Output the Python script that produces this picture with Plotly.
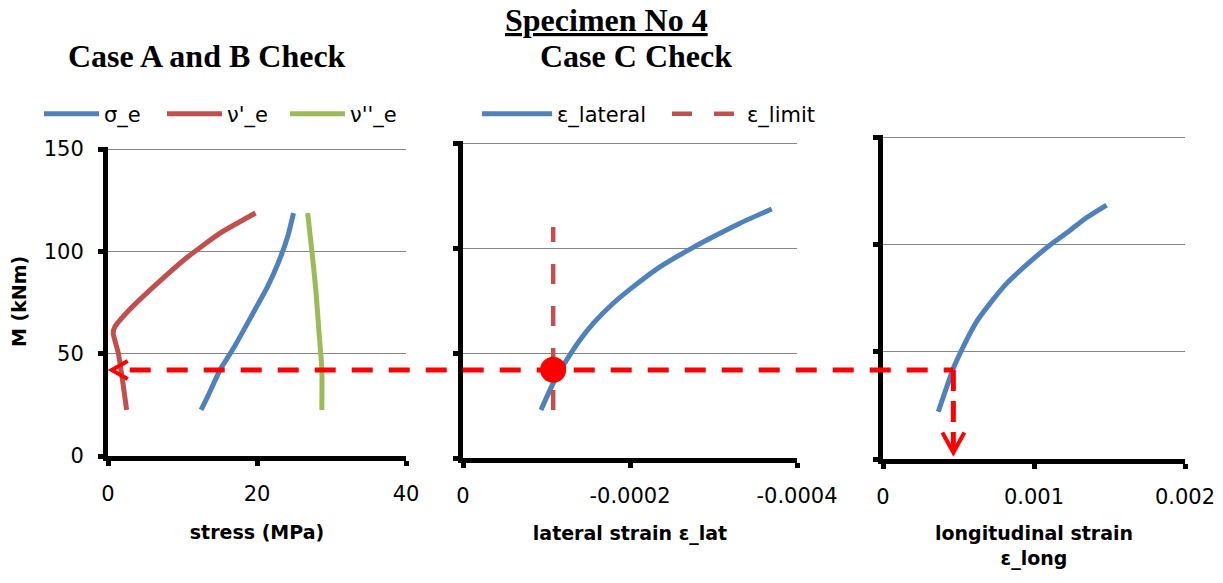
import plotly.graph_objects as go

# ---------------- data ----------------
# Panel 1: Case A and B check (stress, MPa vs M, kNm)
M_sigma = [22.5, 30, 42.5, 53, 70, 82.6, 94.8, 107, 118.7]
sigma_e = [12.5, 13.5, 15.1, 16.9, 19.5, 21.4, 22.9, 24.1, 24.9]
M_nu1 = [22.5, 35.7, 50, 60, 63, 70, 82.6, 97, 109, 118.7]
nu1_e = [2.5, 2.0, 1.4, 0.7, 0.9, 2.5, 6.1, 10.6, 15.1, 19.8]
M_nu2 = [22.5, 42.5, 61.5, 81, 99, 118.7]
nu2_e = [28.7, 28.7, 28.3, 27.9, 27.4, 26.8]

# Panel 2: Case C check (lateral strain)
M_lat = [22.9, 35.6, 46.7, 56.2, 64.1, 73.7, 81.6, 91.0, 100.3, 107.0, 111.8, 118.6]
eps_lat = [-0.0000934, -0.000108, -0.0001242, -0.0001401, -0.000156, -0.00018,
           -0.000204, -0.0002359, -0.0002758, -0.0003078, -0.0003317, -0.0003697]
M_limit = [22.9, 110]
eps_limit = [-0.000108, -0.000108]

# Panel 3: longitudinal strain
M_long = [22.0, 31.3, 42.3, 52.4, 64.1, 72.5, 81.8, 91.9, 99.7, 106.5, 112.5, 118.3]
eps_long = [0.000366, 0.000411, 0.000466, 0.000532, 0.000621, 0.000709, 0.000819,
            0.000974, 0.001106, 0.001238, 0.001349, 0.001481]

# Check values (guide)
M_check = 42
stress_guide_start = 0.5
eps_lat_check = -0.000108
eps_long_check = 0.000466
M_arrow_tip = 3

# Ticks
y_ticks = [0, 50, 100, 150]
x1_ticks = [0, 20, 40]
x1_labels = ["0", "20", "40"]
x2_ticks = [0, -0.0002, -0.0004]
x2_labels = ["0", "-0.0002", "-0.0004"]
x3_ticks = [0, 0.001, 0.002]
x3_labels = ["0", "0.001", "0.002"]

# ---------------- layout helpers ----------------
W, H = 1223, 583
BLUE = "#4F81BD"
RED = "#C0504D"
GREEN = "#9BBB59"
GUIDE = "#FF0000"
FONT = "'DejaVu Sans', Lato, sans-serif"
SERIF = "'Liberation Serif', 'Times New Roman', serif"

Y_MAX = 150
Y_TOP = 151  # small headroom so the 150 gridline is drawn

base = {
    1: dict(x=[108, 406], y=[456, 149], xr=[0, 40]),
    2: dict(x=[463, 797], y=[458, 143], xr=[0, -0.0004]),
    3: dict(x=[883, 1185], y=[459, 137], xr=[0, 0.002]),
}
dom = {}
for k, b in base.items():
    y0, y150 = b["y"]
    ytop = y0 - (y0 - y150) * Y_TOP / Y_MAX
    dom[k] = dict(x=[b["x"][0] / W, b["x"][1] / W], y=[1 - y0 / H, 1 - ytop / H], xr=b["xr"])
yr = [0, Y_TOP]


def px(p, v):
    d = dom[p]
    return d["x"][0] + (v - d["xr"][0]) / (d["xr"][1] - d["xr"][0]) * (d["x"][1] - d["x"][0])


def py(p, m):
    d = dom[p]
    return d["y"][0] + (m - yr[0]) / (yr[1] - yr[0]) * (d["y"][1] - d["y"][0])


fig = go.Figure()

LW = 5
SM = 0.5
fig.add_trace(go.Scatter(x=sigma_e, y=M_sigma, mode="lines", name="σ_e",
                         line=dict(color=BLUE, width=LW, shape="spline", smoothing=0.6),
                         xaxis="x", yaxis="y", legend="legend"))
fig.add_trace(go.Scatter(x=nu1_e, y=M_nu1, mode="lines", name="ν'_e",
                         line=dict(color=RED, width=LW, shape="spline", smoothing=0.5),
                         xaxis="x", yaxis="y", legend="legend"))
fig.add_trace(go.Scatter(x=nu2_e, y=M_nu2, mode="lines", name="ν''_e",
                         line=dict(color=GREEN, width=LW, shape="spline", smoothing=0.6),
                         xaxis="x", yaxis="y", legend="legend"))

fig.add_trace(go.Scatter(x=eps_lat, y=M_lat, mode="lines", name="ε_lateral",
                         line=dict(color=BLUE, width=LW, shape="spline", smoothing=SM),
                         xaxis="x2", yaxis="y2", legend="legend2"))
fig.add_trace(go.Scatter(x=eps_limit, y=M_limit, mode="lines", name="ε_limit",
                         line=dict(color=RED, width=4.5, dash="20px,22px"),
                         xaxis="x2", yaxis="y2", legend="legend2"))
fig.add_trace(go.Scatter(x=[eps_lat_check], y=[M_check], mode="markers", showlegend=False,
                         marker=dict(color=GUIDE, size=26), xaxis="x2", yaxis="y2"))

fig.add_trace(go.Scatter(x=eps_long, y=M_long, mode="lines", name="ε_long",
                         line=dict(color=BLUE, width=LW, shape="spline", smoothing=SM),
                         xaxis="x3", yaxis="y3", showlegend=False))

axis_common = dict(showline=True, linewidth=5, linecolor="black", ticks="outside",
                   ticklen=5, tickwidth=5, tickcolor="black", zeroline=False, automargin=False,
                   tickfont=dict(family=FONT, size=21, color="black"))
xt = dict(showgrid=False, ticklabelstandoff=10)
yt = dict(range=yr, tickvals=y_ticks, showgrid=True, gridcolor="#868686", gridwidth=1.3)

title_font = dict(family=FONT, size=19, color="black")

fig.update_layout(
    xaxis=dict(domain=dom[1]["x"], range=dom[1]["xr"], tickvals=x1_ticks, ticktext=x1_labels,
               anchor="y", title=dict(text="<b>stress (MPa)</b>", font=title_font, standoff=22),
               **xt, **axis_common),
    yaxis=dict(domain=dom[1]["y"], anchor="x", ticklabelstandoff=10,
               title=dict(text="<b>M (kNm)</b>", font=title_font, standoff=14),
               **yt, **axis_common),
    xaxis2=dict(domain=dom[2]["x"], range=dom[2]["xr"], tickvals=x2_ticks, ticktext=x2_labels,
                anchor="y2", title=dict(text="<b>lateral strain ε_lat</b>", font=title_font, standoff=21),
                **xt, **axis_common),
    yaxis2=dict(domain=dom[2]["y"], anchor="x2", showticklabels=False, **yt, **axis_common),
    xaxis3=dict(domain=dom[3]["x"], range=dom[3]["xr"], tickvals=x3_ticks, ticktext=x3_labels,
                anchor="y3", title=dict(text="<b>longitudinal strain<br>ε_long</b>", font=title_font, standoff=20),
                **xt, **axis_common),
    yaxis3=dict(domain=dom[3]["y"], anchor="x3", showticklabels=False, **yt, **axis_common),
)

fig.update_layout(
    width=W, height=H, autosize=False,
    margin=dict(l=0, r=0, t=0, b=0),
    paper_bgcolor="white", plot_bgcolor="white",
    font=dict(family=FONT, size=21, color="black"),
    legend=dict(orientation="h", x=39 / W, y=1 - 114 / H, xanchor="left", yanchor="middle",
                itemwidth=55, entrywidth=53, font=dict(family=FONT, size=21, color="black"),
                bgcolor="rgba(0,0,0,0)"),
    legend2=dict(orientation="h", x=477 / W, y=1 - 114 / H, xanchor="left", yanchor="middle",
                 itemwidth=70, entrywidth=105, font=dict(family=FONT, size=21, color="black"),
                 bgcolor="rgba(0,0,0,0)"),
    hovermode=False,
)

# Titles
fig.add_annotation(text="<b><span style='text-decoration:underline'>Specimen No 4</span></b>",
                   x=606 / W, y=1 - 20 / H, xref="paper", yref="paper", showarrow=False,
                   xanchor="center", yanchor="middle",
                   font=dict(family=SERIF, size=32, color="black"))
fig.add_annotation(text="<b>Case A and B Check</b>", x=207 / W, y=1 - 56 / H, xref="paper", yref="paper",
                   showarrow=False, xanchor="center", yanchor="middle",
                   font=dict(family=SERIF, size=32, color="black"))
fig.add_annotation(text="<b>Case C Check</b>", x=636 / W, y=1 - 56 / H, xref="paper", yref="paper",
                   showarrow=False, xanchor="center", yanchor="middle",
                   font=dict(family=SERIF, size=32, color="black"))

# Guide: horizontal dashed line from panel 1 to panel 3, then down
gx0 = px(1, stress_guide_start)
gy = py(1, M_check)
gx1 = px(3, eps_long_check)
gy_tip = py(3, M_arrow_tip)
dxp, dyp = 1 / W, 1 / H
fig.add_shape(type="line", xref="paper", yref="paper", x0=gx0 + 18 * dxp, y0=gy, x1=gx1, y1=gy,
              line=dict(color=GUIDE, width=5, dash="21px,16px"))
fig.add_shape(type="line", xref="paper", yref="paper", x0=gx1, y0=gy, x1=gx1, y1=gy_tip + 4 * dyp,
              line=dict(color=GUIDE, width=5, dash="21px,10px"))
fig.add_shape(type="path", xref="paper", yref="paper",
              path=f"M{gx0 + 16 * dxp},{gy + 9 * dyp} L{gx0},{gy} L{gx0 + 16 * dxp},{gy - 9 * dyp}",
              line=dict(color=GUIDE, width=4))
fig.add_shape(type="path", xref="paper", yref="paper",
              path=f"M{gx1 - 11 * dxp},{gy_tip + 20 * dyp} L{gx1},{gy_tip} L{gx1 + 11 * dxp},{gy_tip + 20 * dyp}",
              line=dict(color=GUIDE, width=4))

fig.write_html("out.html")
